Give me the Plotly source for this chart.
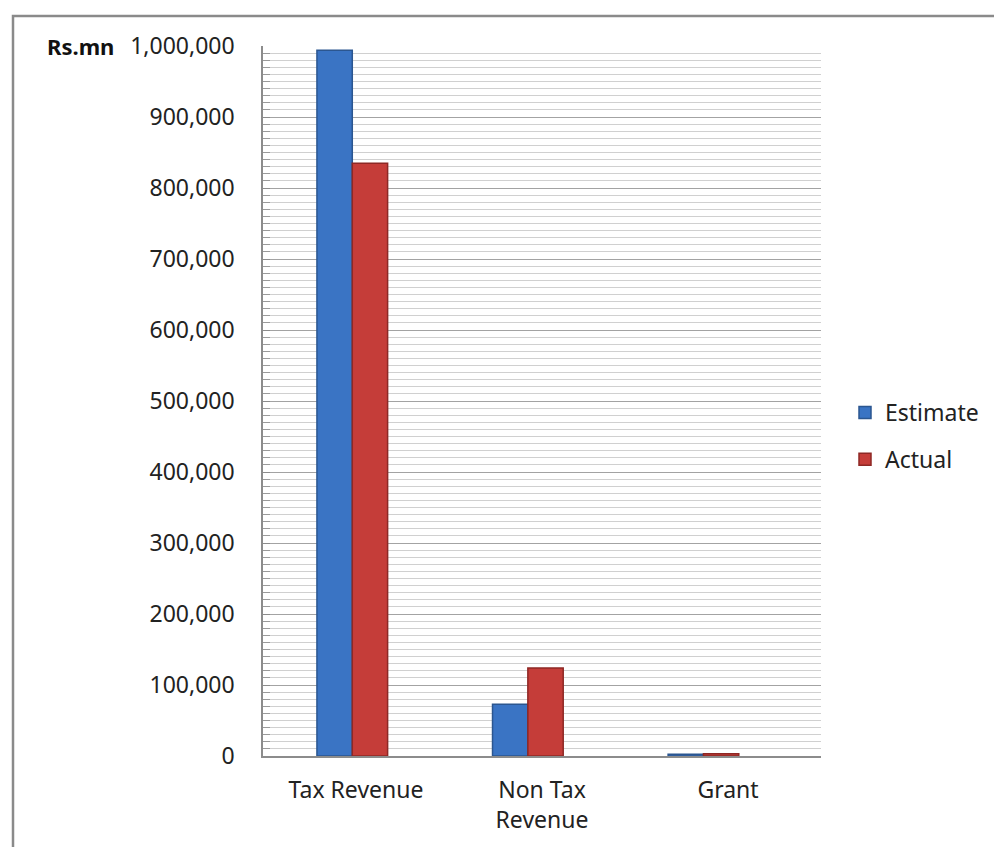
import plotly.graph_objects as go

categories = ["Tax Revenue", "Non Tax<br>Revenue", "Grant"]
estimate = [994000, 73000, 2500]
actual = [835000, 124000, 3000]
y_ticks = [0, 100000, 200000, 300000, 400000, 500000, 600000, 700000, 800000, 900000, 1000000]
y_tick_text = ["0", "100,000", "200,000", "300,000", "400,000", "500,000",
               "600,000", "700,000", "800,000", "900,000", "1,000,000"]

FONT = "Noto Sans"
BLUE = "#3A74C4"
BLUE_EDGE = "#2B5690"
RED = "#C53D39"
RED_EDGE = "#8E2825"

# perspective shift of the 3D column groups (in category units)
bar_w = 0.19
persp = [-0.02 - 0.056 * i for i in range(len(categories))]
off_est = [p - bar_w for p in persp]
off_act = [p for p in persp]

W, H = 994, 847
L, R, T, B = 263, 821, 46, 756

fig = go.Figure()
fig.add_trace(go.Bar(
    x=categories, y=estimate, name="Estimate",
    marker=dict(color=BLUE, line=dict(color=BLUE_EDGE, width=1.5)),
    width=bar_w, offset=off_est, legendgroup="a",
))
fig.add_trace(go.Bar(
    x=categories, y=actual, name="Actual",
    marker=dict(color=RED, line=dict(color=RED_EDGE, width=1.5)),
    width=bar_w, offset=off_act, legendgroup="b",
))

def px_x(px):
    return (px - L) / (R - L)

def px_y(py):
    return (B - py) / (B - T)

fig.update_layout(
    width=W, height=H,
    margin=dict(l=L, r=W - R, t=T, b=H - B, pad=0, autoexpand=False),
    paper_bgcolor="white", plot_bgcolor="white",
    font=dict(family=FONT, size=23, color="#222222"),
    barmode="overlay",
    showlegend=True,
    legend=dict(x=px_x(845), y=px_y(436), xanchor="left", yanchor="middle",
                font=dict(size=23, color="#222222"), tracegroupgap=14,
                itemwidth=30, bgcolor="rgba(0,0,0,0)"),
    xaxis=dict(
        type="category", range=[-0.5, 2.5],
        showgrid=False, showline=True, linecolor="#8c8c8c", linewidth=1.5,
        ticks="", ticklabelstandoff=13, tickfont=dict(size=23),
        fixedrange=True,
    ),
    yaxis=dict(
        range=[0, 1000000], tickvals=y_ticks, ticktext=y_tick_text,
        showgrid=True, gridcolor="#a3a3a3", gridwidth=1,
        showline=True, linecolor="#8c8c8c", linewidth=1.5,
        ticks="inside", ticklen=7, tickcolor="#8c8c8c",
        ticklabelstandoff=22, tickfont=dict(size=23),
        zeroline=False,
        minor=dict(dtick=10000, showgrid=True, gridcolor="#d0d0d0", gridwidth=1,
                   ticks="inside", ticklen=7, tickcolor="#9a9a9a"),
    ),
    annotations=[dict(
        text="<b>Rs.mn</b>", xref="paper", yref="paper",
        x=px_x(45), y=px_y(46), xanchor="left", yanchor="middle",
        showarrow=False, font=dict(size=22, color="#111111", family=FONT),
    )],
    shapes=[dict(
        type="path", xref="paper", yref="paper",
        path=f"M {px_x(13)} {px_y(860)} L {px_x(13)} {px_y(16)} L {px_x(1000)} {px_y(16)}",
        line=dict(color="#8a8a8a", width=2.5),
    )],
)

fig.write_html("out.html")
